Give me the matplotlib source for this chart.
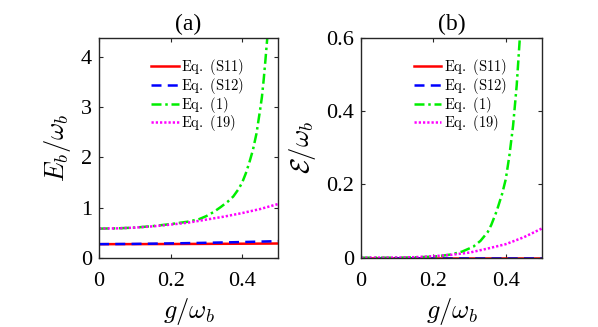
import matplotlib
matplotlib.use("Agg")
import matplotlib.pyplot as plt

plt.rcParams['font.family'] = 'Liberation Serif'
plt.rcParams['mathtext.fontset'] = 'cm'

# panel (a): E_b / omega_b
g_flat = [0, 0.1, 0.2, 0.3, 0.4, 0.5]
a_s11 = [0.27, 0.271, 0.273, 0.276, 0.279, 0.283]
a_s12 = [0.27, 0.275, 0.285, 0.297, 0.312, 0.33]

g_a_eq1 = [0, 0.05, 0.1, 0.15, 0.2, 0.25, 0.28, 0.3, 0.32, 0.34, 0.36, 0.375, 0.39,
           0.40, 0.41, 0.42, 0.43, 0.44, 0.45, 0.455, 0.46, 0.465, 0.47, 0.475]
a_eq1 = [0.58, 0.585, 0.60, 0.63, 0.67, 0.72, 0.77, 0.83, 0.91, 1.01, 1.12, 1.22, 1.37,
         1.50, 1.68, 1.90, 2.15, 2.48, 2.95, 3.2, 3.55, 3.95, 4.38, 4.9]

g_a_eq19 = [0, 0.05, 0.1, 0.15, 0.2, 0.25, 0.3, 0.35, 0.4, 0.45, 0.5]
a_eq19 = [0.58, 0.585, 0.60, 0.625, 0.66, 0.70, 0.76, 0.82, 0.89, 0.97, 1.07]

# panel (b): script E / omega_b
b_s11 = [0, 0, 0, 0, 0, 0]
b_s12 = [0, 0, 0, 0, 0, 0]

g_b_eq1 = [0, 0.1, 0.15, 0.2, 0.22, 0.25, 0.28, 0.31, 0.33, 0.35, 0.36, 0.375, 0.39,
           0.40, 0.41, 0.42, 0.43, 0.44]
b_eq1 = [0, 0, 0.001, 0.003, 0.005, 0.009, 0.017, 0.030, 0.046, 0.070, 0.090, 0.128, 0.175,
         0.215, 0.28, 0.36, 0.47, 0.62]

g_b_eq19 = [0, 0.1, 0.15, 0.2, 0.25, 0.3, 0.35, 0.4, 0.45, 0.5]
b_eq19 = [0, 0.0005, 0.0015, 0.004, 0.008, 0.014, 0.025, 0.037, 0.056, 0.080]

labels = [r'$\mathrm{Eq.\ (S11)}$', r'$\mathrm{Eq.\ (S12)}$',
          r'$\mathrm{Eq.\ (1)}$', r'$\mathrm{Eq.\ (19)}$']

fig = plt.figure(figsize=(5.98, 3.27), dpi=100)
ax1 = fig.add_axes([0.1656, 0.2119, 0.2993, 0.672])
ax2 = fig.add_axes([0.6037, 0.2119, 0.3027, 0.672])


def draw(ax, s11, s12, ge1, e1, ge19, e19):
    lw = 1.8
    ax.plot(g_flat, s11, color='#ff0000', linestyle='-', linewidth=lw, label=labels[0])
    ax.plot(g_flat, s12, color='#0000ff', linestyle=(0, (4, 2.5)), linewidth=lw, label=labels[1])
    ax.plot(ge1, e1, color='#00ee00', linestyle=(0, (4, 1.5, 1, 1.5)), linewidth=lw, label=labels[2])
    ax.plot(ge19, e19, color='#ff00ff', linestyle=(0, (0.9, 0.8)), linewidth=lw, label=labels[3])
    ax.set_xlim(0, 0.5)
    ax.set_xticks([0, 0.2, 0.4])
    ax.set_xticklabels(['0', '0.2', '0.4'])
    ax.tick_params(direction='in', top=True, right=True, labelsize=16, length=3,
                   color='#262626')
    ax.tick_params(axis='x', pad=10)
    ax.tick_params(axis='y', pad=5)
    for sp in ax.spines.values():
        sp.set_color('#262626')
        sp.set_linewidth(1.0)
    ax.set_xlabel(r'$g/\omega_b$', fontsize=19, labelpad=4)
    ax.legend(loc='upper left', bbox_to_anchor=(0.235, 0.96), frameon=False, fontsize=10.5,
              handlelength=1.9, handletextpad=0.15, labelspacing=-0.08, borderpad=0.2)


draw(ax1, a_s11, a_s12, g_a_eq1, a_eq1, g_a_eq19, a_eq19)
ax1.set_ylim(0, 4.38)
ax1.set_yticks([0, 1, 2, 3, 4])
ax1.set_ylabel(r'$E_b/\omega_b$', fontsize=19, labelpad=6)
ax1.set_title('(a)', fontsize=17, pad=6)

draw(ax2, b_s11, b_s12, g_b_eq1, b_eq1, g_b_eq19, b_eq19)
ax2.set_ylim(0, 0.6)
ax2.set_yticks([0, 0.2, 0.4, 0.6])
ax2.set_yticklabels(['0', '0.2', '0.4', '0.6'])
ax2.set_ylabel(r'$\mathcal{E}/\omega_b$', fontsize=19, labelpad=6)
ax2.set_title('(b)', fontsize=17, pad=6)

fig.savefig('out.png', dpi=100)
